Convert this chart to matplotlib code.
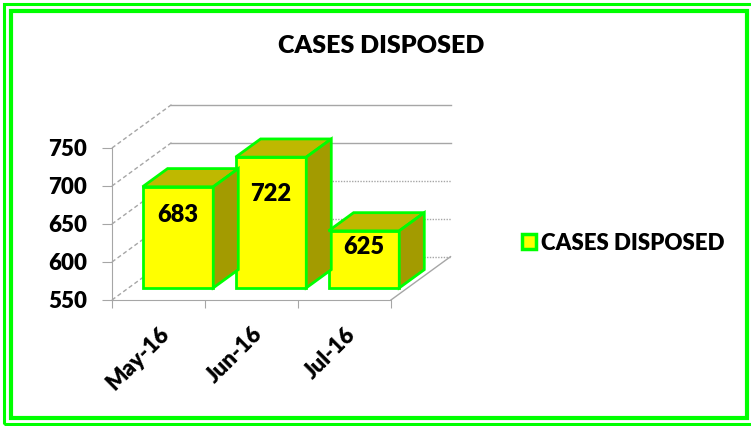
import matplotlib
matplotlib.use("Agg")
import matplotlib.pyplot as plt
from matplotlib.patches import Polygon, Rectangle, Patch

months = ["May-16", "Jun-16", "Jul-16"]
cases = [683, 722, 625]
yticks = [550, 600, 650, 700, 750]
series_name = "CASES DISPOSED"

plt.rcParams['font.family'] = ['Lato', 'DejaVu Sans']
plt.rcParams['font.weight'] = 'heavy'
W = "heavy"

fig = plt.figure(figsize=(7.51, 4.26), dpi=100)
ax = fig.add_axes([0.1429, 0.2869, 0.4644, 0.4763])
ax.set_xlim(-0.55, 3.2)
ax.set_ylim(545, 812)

base = yticks[0]
# oblique "3d" depth of the walls, in data units
dx, dy = 0.64, 57
# bars sit a bit back from the front and take part of the depth
f0, fd = 0.28, 0.42
sx, sy = f0 * dx + 0.03, f0 * dy
bdx, bdy = fd * dx, fd * dy
width = 0.76
grey = "#a6a6a6"
green = "#00ff00"

# walls and floor
for v in yticks:
    ls = "-" if v >= 700 else (0, (1, 1))
    ax.plot([-0.5 + dx, 2.5 + dx], [v + dy, v + dy], color=grey, lw=1, ls=ls, zorder=1)
    ax.plot([-0.5, -0.5 + dx], [v, v + dy], color=grey, lw=1, ls=(0, (3, 2)), zorder=1)
ax.plot([2.5, 2.5 + dx], [base, base + dy], color=grey, lw=1, zorder=1)

# bars: front face via ax.bar, then top and side faces
xs = [i + sx for i in range(len(cases))]
ax.bar(xs, [c - base for c in cases], width=width, bottom=base + sy,
       color="#ffff00", edgecolor=green, linewidth=2, zorder=3)
for x, c in zip(xs, cases):
    x0, x1 = x - width / 2, x + width / 2
    top = c + sy
    bot = base + sy
    ax.add_patch(Polygon([(x0, top), (x1, top), (x1 + bdx, top + bdy), (x0 + bdx, top + bdy)],
                         closed=True, facecolor="#bfb800", edgecolor=green, lw=2, zorder=3))
    ax.add_patch(Polygon([(x1, bot), (x1, top), (x1 + bdx, top + bdy), (x1 + bdx, bot + bdy)],
                         closed=True, facecolor="#a39b00", edgecolor=green, lw=2, zorder=3))
    ax.text(x, bot + 0.72 * (c - base), str(c), ha="center", va="center",
            fontsize=17, fontweight=W, zorder=4)

# axes
for s in ["top", "right"]:
    ax.spines[s].set_visible(False)
ax.spines["left"].set_position(("data", -0.5))
ax.spines["left"].set_bounds(550, 750)
ax.spines["left"].set_color(grey)
ax.spines["bottom"].set_position(("data", base))
ax.spines["bottom"].set_bounds(-0.5, 2.5)
ax.spines["bottom"].set_color(grey)
ax.spines["bottom"].set_linestyle((0, (1, 1)))
ax.patch.set_alpha(0)

ax.set_yticks(yticks)
ax.set_yticklabels([str(v) for v in yticks], fontsize=16, fontweight=W)
ax.tick_params(axis="y", length=7, color=grey, pad=11)

ax.set_xticks([-0.5, 0.5, 1.5, 2.5])
ax.set_xticklabels([])
ax.set_xticks(range(len(months)), minor=True)
ax.set_xticklabels(months, minor=True, rotation=45, ha="right",
                   rotation_mode="anchor", fontsize=16, fontweight=W)
ax.tick_params(axis="x", which="major", length=6, color=grey, direction="out")
ax.tick_params(axis="x", which="minor", length=0, pad=17)

for a in ax.get_children():
    if hasattr(a, "set_clip_on"):
        a.set_clip_on(False)

fig.text(0.507, 1 - 46 / 426, "CASES DISPOSED", ha="center", va="center",
         fontsize=18, fontweight=W)

fig.legend(handles=[Patch(facecolor="#ffff00", edgecolor=green, linewidth=2.5, label=series_name)],
           loc="center left", bbox_to_anchor=(0.668, 1 - 243 / 426), frameon=False,
           handlelength=0.65, handleheight=0.65, handletextpad=0.2,
           prop={"size": 16, "weight": W})

# double green frame
fig.add_artist(Rectangle((4 / 751, 2.5 / 426), 760 / 751, 419.5 / 426, transform=fig.transFigure,
                         fill=False, edgecolor=green, lw=2.2))
fig.add_artist(Rectangle((10.5 / 751, 8.5 / 426), 736 / 751, 406.5 / 426, transform=fig.transFigure,
                         fill=False, edgecolor=green, lw=3))

fig.savefig("out.png", dpi=100)
